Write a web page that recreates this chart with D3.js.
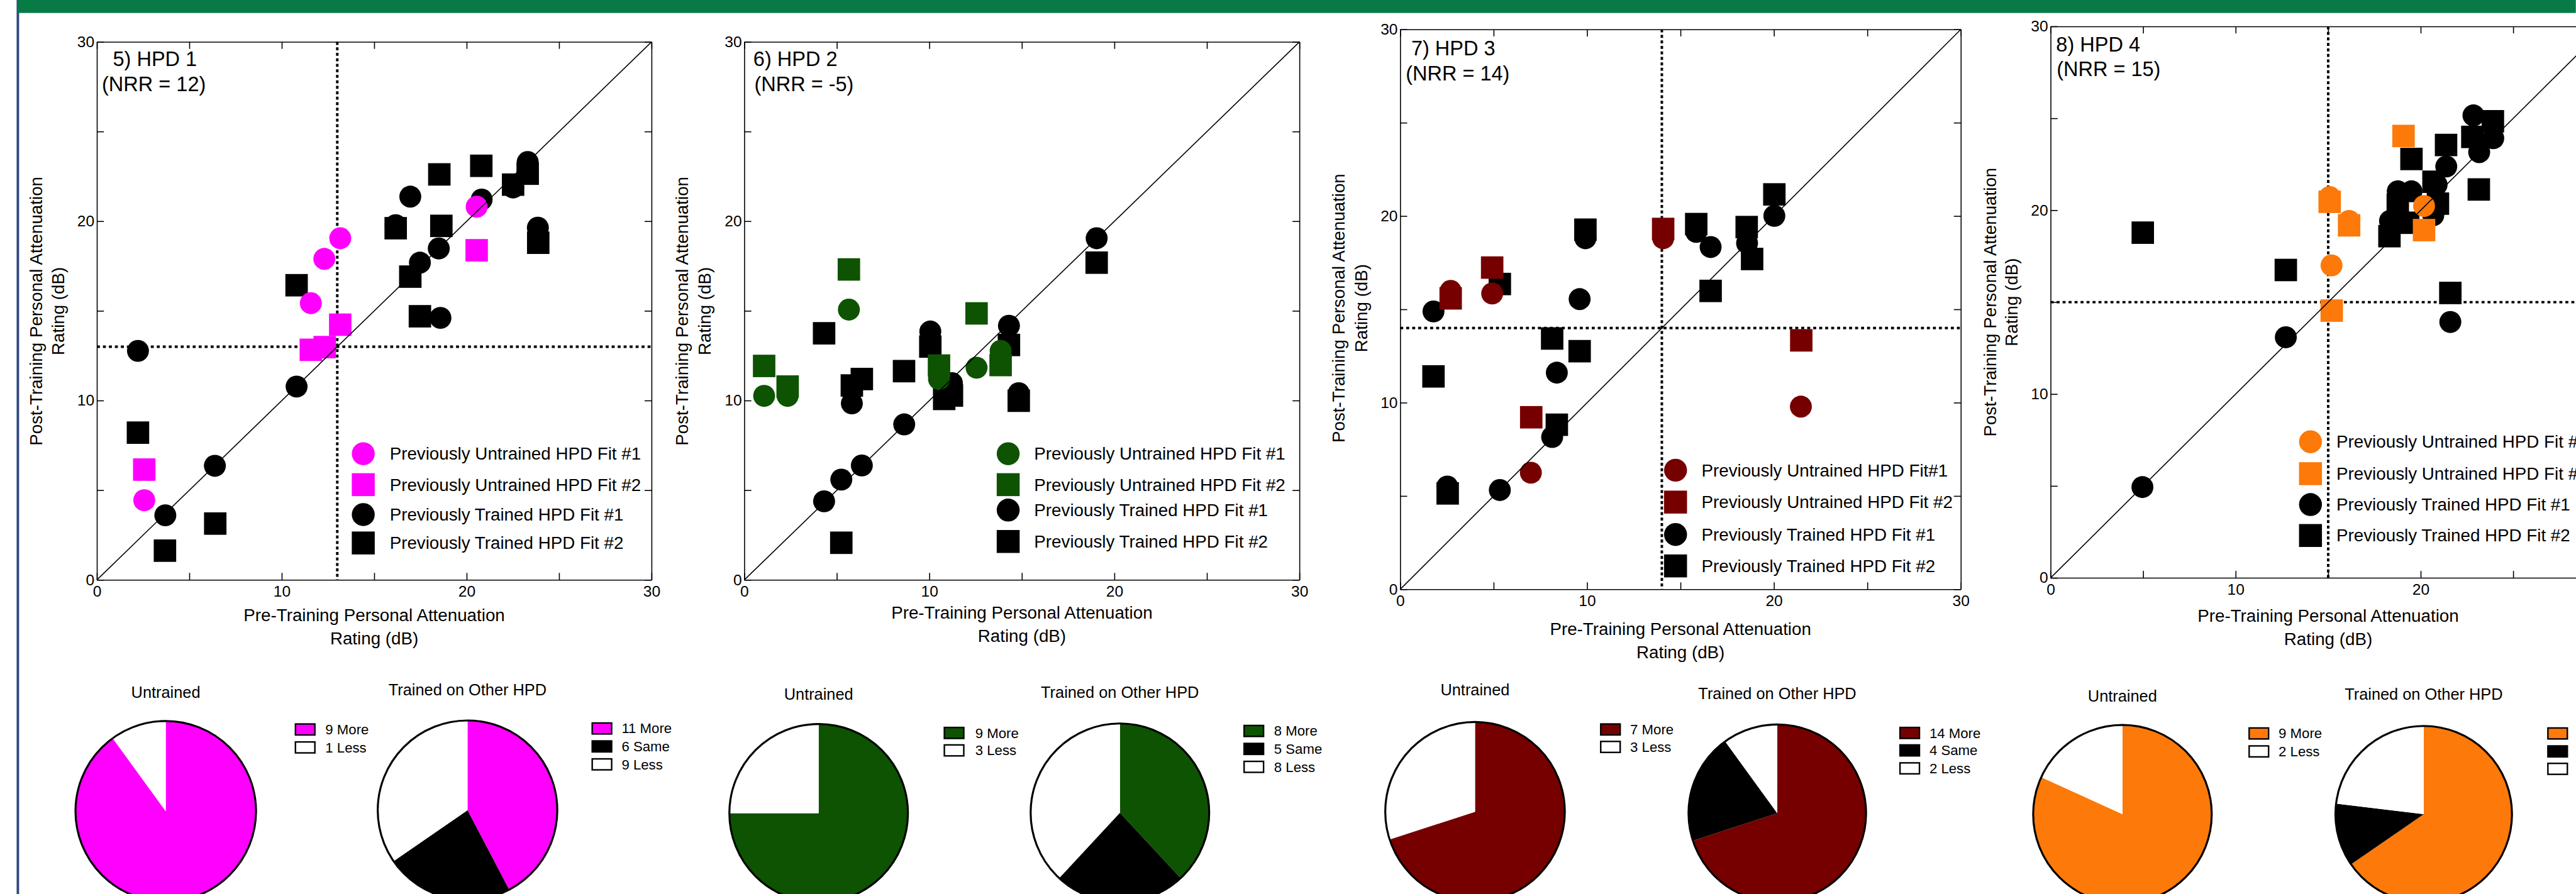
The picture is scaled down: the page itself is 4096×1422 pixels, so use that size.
<!DOCTYPE html>
<html>
<head>
<meta charset="utf-8">
<script src="https://cdn.jsdelivr.net/npm/d3@7"></script>
<style>
  html, body { margin: 0; padding: 0; background: #fff; overflow: hidden; }
  svg { display: block; }
</style>
</head>
<body>
<div id="chart"></div>
<script>
// Pre vs post training personal attenuation ratings for 4 HPDs, plus pie summaries.
// Each point is [pre-training rating, post-training rating] in dB.

//---------------------------------------- DATA --------------------------------------------

const panelTitles = ["5) HPD 1", "6) HPD 2", "7) HPD 3", "8) HPD 4"];
const nrrLabels = ["(NRR = 12)", "(NRR = -5)", "(NRR = 14)", "(NRR = 15)"];
const refValues = [13, null, 14, 15];            // dotted cross-hair, none for HPD 2
const hpdColors = ["#ff00ff", "#0d5302", "#760000", "#fd790a"];
const axisTicks = [0, 5, 10, 15, 20, 25, 30];

const legendLabels = ["Previously Untrained HPD Fit #1", "Previously Untrained HPD Fit #2",
                      "Previously Trained HPD Fit #1", "Previously Trained HPD Fit #2"];
const legendLabelsHpd3 = ["Previously Untrained HPD Fit#1", "Previously Untrained HPD Fit #2",
                          "Previously Trained HPD Fit #1", "Previously Trained HPD Fit #2"];

// HPD 1
const hpd1Untrained1 = [[2.56, 4.44], [11.57, 15.43], [12.30, 17.90], [13.16, 19.05], [20.54, 20.81]];
const hpd1Untrained2 = [[2.56, 6.15], [11.57, 12.83], [12.32, 12.98], [13.16, 14.23], [20.54, 18.38]];
const hpd1Trained1 = [[2.22, 12.77], [3.70, 3.60], [6.38, 6.36], [10.80, 10.78], [16.16, 19.78], [16.95, 21.37],
  [17.47, 17.69], [18.49, 18.48], [18.58, 14.61], [20.81, 21.21], [22.51, 21.88], [23.30, 23.30], [23.85, 19.64]];
const hpd1Trained2 = [[2.22, 8.21], [3.68, 1.63], [6.40, 3.14], [10.80, 16.43], [16.16, 19.61], [16.95, 16.91],
  [17.47, 14.70], [18.52, 22.61], [18.63, 19.74], [20.79, 23.09], [22.51, 22.04], [23.30, 22.65], [23.87, 18.80]];

// HPD 2
const hpd2Untrained1 = [[1.07, 10.26], [2.34, 10.26], [5.65, 15.07], [10.52, 11.20], [12.55, 11.83], [13.85, 12.77]];
const hpd2Untrained2 = [[1.07, 11.93], [2.34, 10.78], [5.65, 17.31], [10.52, 11.95], [12.55, 14.86], [13.85, 11.98]];
const hpd2Trained1 = [[4.31, 4.38], [5.24, 5.59], [5.81, 9.84], [6.35, 6.38], [8.64, 8.67], [10.05, 13.85],
  [11.22, 10.97], [14.30, 14.17], [14.83, 10.41], [19.04, 19.05]];
const hpd2Trained2 = [[4.31, 13.75], [5.24, 2.07], [5.81, 10.84], [6.35, 11.20], [8.63, 11.64], [10.05, 13.01],
  [10.80, 10.09], [11.22, 10.28], [14.30, 13.10], [14.83, 9.99], [19.04, 17.69]];

// HPD 3
const hpd3Untrained1 = [[2.70, 15.99], [4.92, 15.85], [6.99, 6.25], [14.07, 18.81], [21.44, 9.79]];
const hpd3Untrained2 = [[2.70, 15.59], [4.92, 17.24], [7.01, 9.22], [14.07, 19.31], [21.46, 13.34]];
const hpd3Trained1 = [[1.78, 14.89], [2.52, 5.51], [5.33, 5.32], [8.13, 8.16], [8.38, 11.61], [9.60, 15.55],
  [9.91, 18.81], [15.84, 19.15], [16.61, 18.34], [18.56, 18.55], [20.02, 20.01]];
const hpd3Trained2 = [[1.78, 11.41], [2.54, 5.14], [5.33, 16.36], [8.13, 13.44], [8.38, 8.82], [9.60, 12.76],
  [9.91, 19.27], [15.84, 19.57], [16.61, 15.99], [18.54, 19.41], [18.83, 17.70], [20.02, 21.16]];

// HPD 4
const hpd4Untrained1 = [[15.08, 20.72], [16.13, 19.42], [15.18, 17.00], [20.18, 20.23]];
const hpd4Untrained2 = [[19.07, 24.04], [15.08, 20.46], [16.13, 19.18], [20.18, 18.92], [15.19, 14.54]];
const hpd4Trained1 = [[4.96, 4.94], [12.71, 13.09], [21.60, 13.92], [22.85, 25.16], [23.92, 23.92], [23.16, 23.16],
  [21.38, 22.38], [20.86, 21.39], [18.76, 21.03], [19.50, 21.03], [20.68, 19.73], [18.34, 19.42]];
const hpd4Trained2 = [[4.98, 18.78], [12.71, 16.75], [21.60, 15.50], [23.90, 24.84], [22.79, 23.99], [21.37, 23.55],
  [19.50, 22.79], [23.14, 21.13], [20.69, 21.55], [20.93, 20.36], [18.76, 20.30], [19.32, 19.32], [18.31, 18.59]];

// pie counts
const untrainedMore = [9, 9, 7, 9];
const untrainedLess = [1, 3, 3, 2];
const trainedMore = [11, 8, 14, 17];
const trainedSame = [6, 5, 4, 3];
const trainedLess = [9, 8, 2, 6];

//---------------------------------------- LAYOUT (reference pixels) -----------------------

const fontFam = '"Liberation Sans", Arial, Helvetica, sans-serif';

const frames = [
  { L: 194, R: 1306, T: 84, B: 1163 },
  { L: 1492, R: 2605, T: 84, B: 1163 },
  { L: 2807, R: 3931, T: 59, B: 1182 },
  { L: 4111, R: 5224, T: 53, B: 1159 }
];
const titlePos = [
  { x1: 226, x2: 204, y1: 133 }, { x1: 1510, x2: 1512, y1: 133 },
  { x1: 2829, x2: 2818, y1: 111 }, { x1: 4122, x2: 4123, y1: 103 }
];
const yLabelPos = [
  { x1: 72, x2: 116, yc: 624 }, { x1: 1367, x2: 1412, yc: 624 },
  { x1: 2683, x2: 2729, yc: 618 }, { x1: 3989, x2: 4033, yc: 606 }
];
const xLabelPos = [{ y1: 1246, y2: 1293 }, { y1: 1241, y2: 1288 }, { y1: 1273, y2: 1320 }, { y1: 1247, y2: 1294 }];
const legendPos = [
  { sx: 728, tx: 781, rows: [910, 972, 1032, 1089] },
  { sx: 2021, tx: 2073, rows: [910, 972, 1023, 1086] },
  { sx: 3359, tx: 3411, rows: [943, 1007, 1072, 1135] },
  { sx: 4632, tx: 4684, rows: [886, 950, 1012, 1074] }
];
const pieLayout = [
  { u: { cx: 332, cy: 1627, r: 181, ty: 1399, bx: 592, tx: 652, rows: [1463, 1499] },
    t: { cx: 937, cy: 1625, r: 180, ty: 1395, bx: 1187, tx: 1246, rows: [1461, 1497, 1533] } },
  { u: { cx: 1641, cy: 1631, r: 179, ty: 1404, bx: 1893, tx: 1955, rows: [1470, 1505] },
    t: { cx: 2245, cy: 1630, r: 179, ty: 1400, bx: 2494, tx: 2554, rows: [1466, 1502, 1538] } },
  { u: { cx: 2957, cy: 1628, r: 180, ty: 1395, bx: 3209, tx: 3268, rows: [1463, 1498] },
    t: { cx: 3563, cy: 1631, r: 178, ty: 1402, bx: 3809, tx: 3868, rows: [1470, 1505, 1541] } },
  { u: { cx: 4255, cy: 1633, r: 179, ty: 1407, bx: 4509, tx: 4568, rows: [1471, 1507] },
    t: { cx: 4859, cy: 1633, r: 177, ty: 1404, bx: 5108, tx: 5168, rows: [1471, 1507, 1542] } }
];

const scatterPanels = [
  { u1: hpd1Untrained1, u2: hpd1Untrained2, t1: hpd1Trained1, t2: hpd1Trained2, labels: legendLabels },
  { u1: hpd2Untrained1, u2: hpd2Untrained2, t1: hpd2Trained1, t2: hpd2Trained2, labels: legendLabels },
  { u1: hpd3Untrained1, u2: hpd3Untrained2, t1: hpd3Trained1, t2: hpd3Trained2, labels: legendLabelsHpd3 },
  { u1: hpd4Untrained1, u2: hpd4Untrained2, t1: hpd4Trained1, t2: hpd4Trained2, labels: legendLabels }
];

const circleR = 22;
const squareS = 45;

//---------------------------------------- CODE BELOW --------------------------------------

const svg = d3.select("#chart")
  .append("svg")
  .attr("width", 4096)
  .attr("height", 1422)
  .attr("viewBox", "0 0 5164 1793")
  .style("font-family", fontFam);

// poster frame: navy rule on the left, green bar on top
svg.append("rect").attr("x", 33).attr("y", 0).attr("width", 5).attr("height", 1793).attr("fill", "#2e4a80");
svg.append("rect").attr("x", 35).attr("y", 0).attr("width", 5164 - 35).attr("height", 26).attr("fill", "#077a45");

// draws circles or squares for a list of points
function drawMarks(g, pts, shape, color, x, y) {
  if (shape === "circle") {
    g.append("g").selectAll("circle")
      .data(pts)
      .enter()
      .append("circle")
      .attr("cx", d => x(d[0]))
      .attr("cy", d => y(d[1]))
      .attr("r", circleR)
      .attr("fill", color);
  } else {
    g.append("g").selectAll("rect")
      .data(pts)
      .enter()
      .append("rect")
      .attr("x", d => x(d[0]) - squareS / 2)
      .attr("y", d => y(d[1]) - squareS / 2)
      .attr("width", squareS)
      .attr("height", squareS)
      .attr("fill", color);
  }
}

function styleAxis(a) {
  a.attr("font-size", 31).attr("font-family", fontFam);
  a.selectAll("line, path").attr("stroke", "#000").attr("stroke-width", 2);
  a.selectAll("text").attr("fill", "#000");
}

const tickFmt = d => (d % 10 === 0 ? d : "");

scatterPanels.forEach(function (p, i) {
  const f = frames[i];
  const color = hpdColors[i];
  const x = d3.scaleLinear().domain([0, 30]).range([f.L, f.R]);
  const y = d3.scaleLinear().domain([0, 30]).range([f.B, f.T]);
  const g = svg.append("g");

  // dotted cross-hair at the NRR value
  if (refValues[i] !== null) {
    const v = refValues[i];
    g.append("line")
      .attr("x1", x(v)).attr("x2", x(v)).attr("y1", f.T).attr("y2", f.B)
      .attr("stroke", "#000").attr("stroke-width", 5).attr("stroke-dasharray", "6,5");
    g.append("line")
      .attr("x1", f.L).attr("x2", f.R).attr("y1", y(v)).attr("y2", y(v))
      .attr("stroke", "#000").attr("stroke-width", 5).attr("stroke-dasharray", "6,6");
  }

  // trained in black first, untrained (coloured) on top
  drawMarks(g, p.t1, "circle", "#000", x, y);
  drawMarks(g, p.t2, "square", "#000", x, y);
  drawMarks(g, p.u1, "circle", color, x, y);
  drawMarks(g, p.u2, "square", color, x, y);

  // unity line
  g.append("line")
    .attr("x1", x(0)).attr("y1", y(0)).attr("x2", x(30)).attr("y2", y(30))
    .attr("stroke", "#000").attr("stroke-width", 2);

  // axes, ticks pointing inward on all four sides
  styleAxis(g.append("g").attr("transform", `translate(0,${f.B})`)
    .call(d3.axisBottom(x).tickValues(axisTicks).tickSize(-14).tickSizeOuter(0).tickPadding(12).tickFormat(tickFmt)));
  styleAxis(g.append("g").attr("transform", `translate(${f.L},0)`)
    .call(d3.axisLeft(y).tickValues(axisTicks).tickSize(-14).tickSizeOuter(0).tickPadding(5).tickFormat(tickFmt)));
  styleAxis(g.append("g").attr("transform", `translate(0,${f.T})`)
    .call(d3.axisTop(x).tickValues(axisTicks).tickSize(-14).tickSizeOuter(0).tickFormat("")));
  styleAxis(g.append("g").attr("transform", `translate(${f.R},0)`)
    .call(d3.axisRight(y).tickValues(axisTicks).tickSize(-14).tickSizeOuter(0).tickFormat("")));

  // panel title
  const tp = titlePos[i];
  g.append("text").attr("x", tp.x1).attr("y", tp.y1).attr("font-size", 41).text(panelTitles[i]);
  g.append("text").attr("x", tp.x2).attr("y", tp.y1 + 50).attr("font-size", 41).text(nrrLabels[i]);

  // axis titles
  const yl = yLabelPos[i];
  [["Post-Training Personal Attenuation", yl.x1], ["Rating (dB)", yl.x2]].forEach(function (t) {
    g.append("text")
      .attr("transform", `translate(${t[1]},${yl.yc}) rotate(-90)`)
      .attr("text-anchor", "middle")
      .attr("dy", "0.35em")
      .attr("font-size", 35)
      .text(t[0]);
  });
  const xl = xLabelPos[i];
  const xc = (f.L + f.R) / 2;
  g.append("text").attr("x", xc).attr("y", xl.y1).attr("text-anchor", "middle").attr("font-size", 35)
    .text("Pre-Training Personal Attenuation");
  g.append("text").attr("x", xc).attr("y", xl.y2).attr("text-anchor", "middle").attr("font-size", 35)
    .text("Rating (dB)");

  // legend
  const lp = legendPos[i];
  const legendItems = [["circle", color], ["square", color], ["circle", "#000"], ["square", "#000"]];
  legendItems.forEach(function (it, k) {
    const cy = lp.rows[k];
    if (it[0] === "circle") {
      g.append("circle").attr("cx", lp.sx).attr("cy", cy).attr("r", circleR + 1).attr("fill", it[1]);
    } else {
      g.append("rect").attr("x", lp.sx - 23).attr("y", cy - 23).attr("width", 46).attr("height", 46).attr("fill", it[1]);
    }
    g.append("text").attr("x", lp.tx).attr("y", cy).attr("dy", "0.35em").attr("font-size", 35).text(p.labels[k]);
  });
});

//---------------------------------------- PIES --------------------------------------------

const pie = d3.pie().sort(null).value(d => d.n);

function drawPie(pl, title, slices) {
  const arc = d3.arc().innerRadius(0).outerRadius(pl.r);
  svg.append("text")
    .attr("x", pl.cx).attr("y", pl.ty)
    .attr("text-anchor", "middle")
    .attr("font-size", 32)
    .text(title);

  const pg = svg.append("g").attr("transform", `translate(${pl.cx},${pl.cy})`);
  pg.selectAll("path")
    .data(pie(slices))
    .enter()
    .append("path")
    .attr("d", arc)
    .attr("fill", d => d.data.fill);
  pg.append("circle").attr("r", pl.r).attr("fill", "none").attr("stroke", "#000").attr("stroke-width", 4);

  // legend next to the pie
  slices.forEach(function (s, k) {
    const cy = pl.rows[k];
    svg.append("rect")
      .attr("x", pl.bx).attr("y", cy - 11).attr("width", 39).attr("height", 22)
      .attr("fill", s.fill).attr("stroke", "#000").attr("stroke-width", 3);
    svg.append("text")
      .attr("x", pl.tx).attr("y", cy).attr("dy", "0.35em")
      .attr("font-size", 28)
      .text(s.n + " " + s.label);
  });
}

pieLayout.forEach(function (pl, i) {
  drawPie(pl.u, "Untrained", [
    { n: untrainedMore[i], label: "More", fill: hpdColors[i] },
    { n: untrainedLess[i], label: "Less", fill: "#fff" }
  ]);
  drawPie(pl.t, "Trained on Other HPD", [
    { n: trainedMore[i], label: "More", fill: hpdColors[i] },
    { n: trainedSame[i], label: "Same", fill: "#000" },
    { n: trainedLess[i], label: "Less", fill: "#fff" }
  ]);
});
</script>
</body>
</html>
